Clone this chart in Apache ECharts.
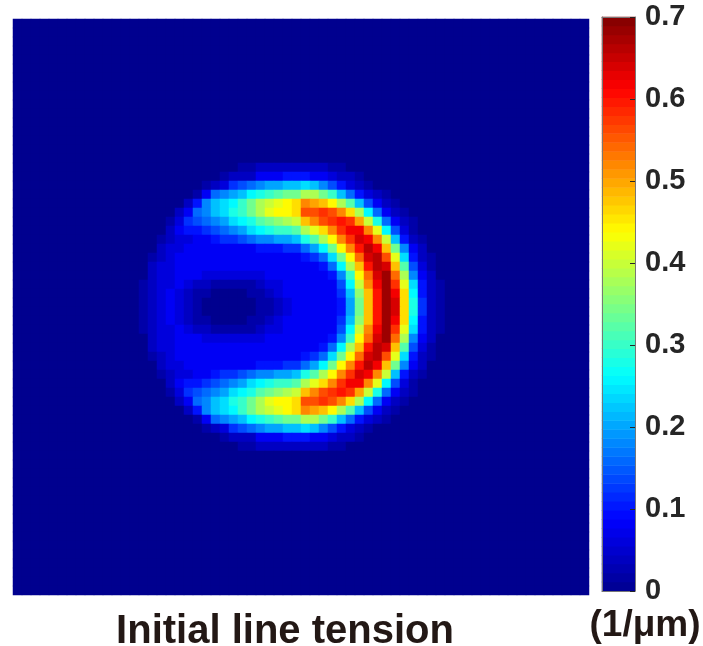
<!DOCTYPE html>
<html>
<head>
<meta charset="utf-8">
<script src="https://cdn.jsdelivr.net/npm/echarts@6/dist/echarts.min.js"></script>
<style>
html,body{margin:0;padding:0;background:#ffffff;}
#chart{width:703px;height:646px;}
</style>
</head>
<body>
<div id="chart"></div>
<script>
// ---- data ----
const gridSize = 64;          // cells per side of the field
const rowStart = 16;          // first row described in fieldRows
const colStart = 12;          // first column described in each row string
const valueStep = 0.02;       // one base-36 digit = 0.02 (1/um)
// each string: columns 12..47, base-36 digit * 0.02 = line tension
const fieldRows = [
  "0000 0000 0000 0112 2222 2221 1000 0000 0000", // 16
  "0000 0000 0001 2224 4455 5443 2210 0000 0000", // 17
  "0000 0000 0123 6789 aabb cb97 5321 0000 0000", // 18
  "0000 0000 1489 abde fghh jjhf b853 2100 0000", // 19
  "0000 0002 59bc dfhj klmn qpom jgb7 4210 0000", // 20
  "0000 0024 89bc efhj lmmn ssts qnjd 8421 0000", // 21
  "0000 0136 789a cdeg hijk oqst utpk e842 1000", // 22
  "0000 0245 5678 9acd effg jlnq tvvq ld73 1000", // 23
  "0000 1233 4456 6789 9aab egjm qtwv qkb5 2100", // 24
  "0000 2334 4444 4445 5566 8adh mqux voh9 4200", // 25
  "0001 2344 4444 4444 4444 568c hmrw xslc 5210", // 26
  "0002 3344 4444 4444 4444 4458 djou xwog 7310", // 27
  "0002 3344 4333 3333 4444 4445 9fmr wyrj 9420", // 28
  "0012 3343 2211 1112 3344 4444 7dkq vytl c521", // 29
  "0012 3432 1100 0011 2344 4444 6bio uyvn d521", // 30
  "0012 3432 1000 0001 1234 4444 5aho uywn e621", // 31
  "0012 3432 1000 0001 1234 4444 5aho uywn e621", // 32
  "0012 3432 1100 0011 2344 4444 6bio uyvn d521", // 33
  "0012 3343 2211 1112 3344 4444 7dkq vytl c521", // 34
  "0002 3344 4333 3333 4444 4445 9fmr wyrj 9420", // 35
  "0002 3344 4444 4444 4444 4458 djou xwog 7310", // 36
  "0001 2344 4444 4444 4444 568c hmrw xslc 5210", // 37
  "0000 2334 4444 4445 5566 8adh mqux voh9 4200", // 38
  "0000 1233 4456 6789 9aab egjm qtwv qkb5 2100", // 39
  "0000 0245 5678 9acd effg jlnq tvvq ld73 1000", // 40
  "0000 0136 789a cdeg hijk oqst utpk e842 1000", // 41
  "0000 0024 89bc efhj lmmn ssts qnjd 8421 0000", // 42
  "0000 0002 59bc dfhj klmn qpom jgb7 4210 0000", // 43
  "0000 0000 1489 abde fghh jjhf b853 2100 0000", // 44
  "0000 0000 0123 6789 aabb cb97 5321 0000 0000", // 45
  "0000 0000 0001 2224 4455 5443 2210 0000 0000", // 46
  "0000 0000 0000 0112 2222 2221 1000 0000 0000"  // 47
];
const colorbarMin = 0;
const colorbarMax = 0.7;
const colorbarLevels = 64;
const colorbarInterval = 0.1;
const titleText = "Initial line tension";
const unitText = "(1/\u03bcm)";
const jetColors = ['#00008F','#0000FF','#0080FF','#00FFFF','#80FF80','#FFFF00','#FF8000','#FF0000','#800000'];

// ---- build series data ----
const cleanRows = fieldRows.map(s => s.replace(/ /g, ''));
const cells = [];
for (let j = 0; j < gridSize; j++) {
  for (let i = 0; i < gridSize; i++) {
    let v = 0;
    const r = j - rowStart, c = i - colStart;
    if (r >= 0 && r < cleanRows.length && c >= 0 && c < cleanRows[r].length) {
      v = parseInt(cleanRows[r][c], 36) * valueStep;
    }
    cells.push([i, j, v]);
  }
}
const idx = Array.from({length: gridSize}, (_, k) => String(k));
const barIdx = Array.from({length: colorbarLevels}, (_, k) => String(k));
const barCells = barIdx.map((_, k) => [0, k, colorbarMin + (k + 0.5) * (colorbarMax - colorbarMin) / colorbarLevels]);

const chart = echarts.init(document.getElementById('chart'), null, {renderer: 'canvas'});
const labelFont = '"Liberation Sans", Arial, Helvetica, sans-serif';
const borderLine = {show: true, lineStyle: {color: '#777777', width: 1}};
chart.setOption({
  animation: false,
  backgroundColor: '#ffffff',
  title: [
    {text: titleText, left: 285, top: 612, padding: 0, textAlign: 'center',
     textStyle: {fontSize: 40, fontWeight: 'bold', color: '#231815', fontFamily: labelFont}},
    {text: unitText, left: 645, top: 607, padding: 0, textAlign: 'center',
     textStyle: {fontSize: 37, fontWeight: 'bold', color: '#231815', fontFamily: labelFont}}
  ],
  grid: [
    {left: 13, top: 19, width: 576, height: 576, show: true, backgroundColor: jetColors[0], borderWidth: 0},
    {left: 602, top: 17, width: 33, height: 574}
  ],
  xAxis: [
    {type: 'category', gridIndex: 0, data: idx, show: false},
    {type: 'category', gridIndex: 1, data: ['c'], z: 10, axisLine: borderLine,
     axisTick: {show: false}, axisLabel: {show: false}, splitLine: {show: false}},
    {type: 'category', gridIndex: 1, data: ['c'], position: 'top', z: 10, axisLine: borderLine,
     axisTick: {show: false}, axisLabel: {show: false}, splitLine: {show: false}}
  ],
  yAxis: [
    {type: 'category', gridIndex: 0, data: idx, inverse: true, show: false},
    {type: 'category', gridIndex: 1, data: barIdx, z: 10, axisLine: borderLine,
     axisTick: {show: false}, axisLabel: {show: false}, splitLine: {show: false}},
    {type: 'value', gridIndex: 1, min: colorbarMin, max: colorbarMax, interval: colorbarInterval,
     position: 'right', z: 10,
     axisLine: borderLine,
     axisTick: {show: true, inside: true, length: 5, lineStyle: {color: '#262626', width: 1}},
     splitLine: {show: false},
     axisLabel: {show: true, margin: 10, fontSize: 29, fontWeight: 'bold', color: '#262626',
       fontFamily: labelFont,
       formatter: v => String(Math.round(v * 10) / 10)}}
  ],
  visualMap: {
    type: 'continuous', show: false, min: colorbarMin, max: colorbarMax,
    dimension: 2, seriesIndex: [0, 1],
    inRange: {color: jetColors}
  },
  series: [
    {type: 'heatmap', xAxisIndex: 0, yAxisIndex: 0, data: cells,
     progressive: 0, itemStyle: {borderWidth: 0}, emphasis: {disabled: true}},
    {type: 'heatmap', xAxisIndex: 1, yAxisIndex: 1, data: barCells,
     progressive: 0, itemStyle: {borderWidth: 0}, emphasis: {disabled: true}}
  ]
});
</script>
</body>
</html>
